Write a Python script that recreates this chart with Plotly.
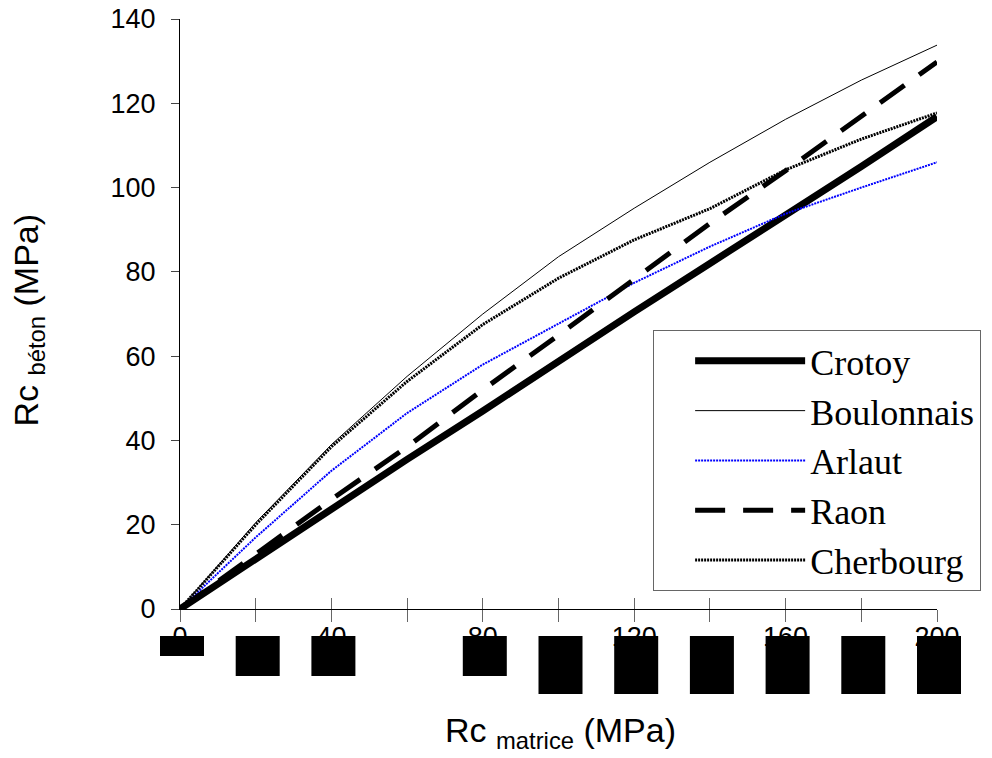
import plotly.graph_objects as go

# ---- data ----
rc_matrice = [0, 20, 40, 60, 80, 100, 120, 140, 160, 180, 200]
crotoy      = [0, 12.0, 23.5, 35.5, 47.0, 59.0, 70.5, 82.0, 93.3, 105.0, 116.8]
boulonnais  = [0, 20.5, 39.0, 55.2, 70.0, 83.6, 95.1, 106.0, 116.2, 125.5, 133.8]
arlaut      = [0, 17.0, 32.8, 46.5, 58.0, 67.8, 77.4, 86.0, 93.8, 100.0, 106.0]
raon        = [0, 13.0, 26.0, 38.5, 52.0, 65.0, 78.4, 91.5, 104.0, 117.0, 129.8]
cherbourg   = [0, 20.0, 38.5, 54.0, 67.5, 78.5, 87.6, 95.0, 104.2, 111.5, 117.7]

x_ticks = [0, 20, 40, 60, 80, 100, 120, 140, 160, 180, 200]
x_tick_labels = ["0", "", "40", "", "80", "", "120", "", "160", "", "200"]
y_ticks = [0, 20, 40, 60, 80, 100, 120, 140]

# black blocks below the x axis in the reference (at these x values)
block_x = [0, 20, 40, 80, 100, 120, 140, 160, 180, 200]
block_depth = [1, 2, 2, 2, 3, 3, 3, 3, 3, 3]

fig = go.Figure()

fig.add_trace(go.Scatter(x=rc_matrice, y=crotoy, mode="lines", name="Crotoy",
                         legendgroup="a",
                         line=dict(color="black", width=7)))
fig.add_trace(go.Scatter(x=rc_matrice, y=boulonnais, mode="lines", name="Boulonnais",
                         legendgroup="b",
                         line=dict(color="black", width=1)))
fig.add_trace(go.Scatter(x=rc_matrice, y=arlaut, mode="lines", name="Arlaut",
                         legendgroup="c",
                         line=dict(color="#0000ff", width=2, dash="2px,1px")))
fig.add_trace(go.Scatter(x=rc_matrice, y=raon, mode="lines", name="Raon",
                         legendgroup="d",
                         line=dict(color="black", width=5, dash="30px,18px")))
fig.add_trace(go.Scatter(x=rc_matrice, y=cherbourg, mode="lines", name="Cherbourg",
                         legendgroup="e",
                         line=dict(color="black", width=3, dash="2px,1px")))

# dummy trace for the overlay axis (inside half of crossing ticks)
fig.add_trace(go.Scatter(x=[0, 200], y=[0, 0], xaxis="x2", mode="lines",
                         line=dict(width=0), showlegend=False, hoverinfo="skip"))

axis_font = dict(family="Liberation Sans, Arial", size=27, color="black")

# page body has an 8px margin, so the figure is shifted by 8px
fig.update_layout(
    width=976, height=742,
    margin=dict(l=172, r=47, t=11, b=141, autoexpand=False),
    paper_bgcolor="white", plot_bgcolor="white",
    showlegend=True,
    xaxis=dict(range=[0, 200], tickvals=x_ticks, ticktext=x_tick_labels,
               ticks="outside", ticklen=12, tickcolor="#666", tickwidth=1,
               showline=True, linecolor="black", linewidth=1, automargin=False,
               showgrid=False, zeroline=False, tickfont=axis_font,
               ticklabelstandoff=-8, ticklabeloverflow="allow"),
    xaxis2=dict(range=[0, 200], overlaying="x", side="bottom", anchor="y",
                tickvals=x_ticks, ticks="inside", ticklen=11, tickcolor="#666",
                automargin=False,
                showticklabels=False, showline=False, showgrid=False, zeroline=False),
    yaxis=dict(range=[0, 140], tickvals=y_ticks, ticks="outside", ticklen=8,
               tickcolor="#444", showline=True, linecolor="black", linewidth=1,
               showgrid=False, zeroline=False, tickfont=axis_font,
               automargin=False, ticklabelstandoff=10, ticklabeloverflow="allow"),
    legend=dict(x=0.625, y=0.473, xanchor="left", yanchor="top",
                bgcolor="white", bordercolor="#666", borderwidth=1,
                font=dict(family="Liberation Serif, Times New Roman", size=36,
                          color="black"),
                itemwidth=110, indentation=36, tracegroupgap=0,
                traceorder="normal"),
)

# axis titles
title_font = dict(family="Liberation Sans, Arial", size=34, color="black")
fig.add_annotation(xref="paper", yref="paper", x=0.503, y=-0.21,
                   text="Rc <sub>matrice</sub> (MPa)", showarrow=False,
                   font=title_font, xanchor="center", yanchor="middle")
fig.add_annotation(xref="paper", yref="paper", x=-0.2, y=0.49,
                   text="Rc <sub>béton</sub> (MPa)", showarrow=False, textangle=-90,
                   font=title_font, xanchor="center", yanchor="middle")

# black blocks
plot_w = 757.0
plot_h = 590.0
top_px = 27.0           # below x axis line
for bx, d in zip(block_x, block_depth):
    cx = bx / 200.0 + 2 / plot_w
    half = 22 / plot_w
    h_px = {1: 20, 2: 40, 3: 58}[d]
    fig.add_shape(type="rect", xref="paper", yref="paper",
                  x0=cx - half, x1=cx + half,
                  y0=-top_px / plot_h, y1=-(top_px + h_px) / plot_h,
                  fillcolor="black", line=dict(width=0), layer="above")

fig.write_html("out.html")
